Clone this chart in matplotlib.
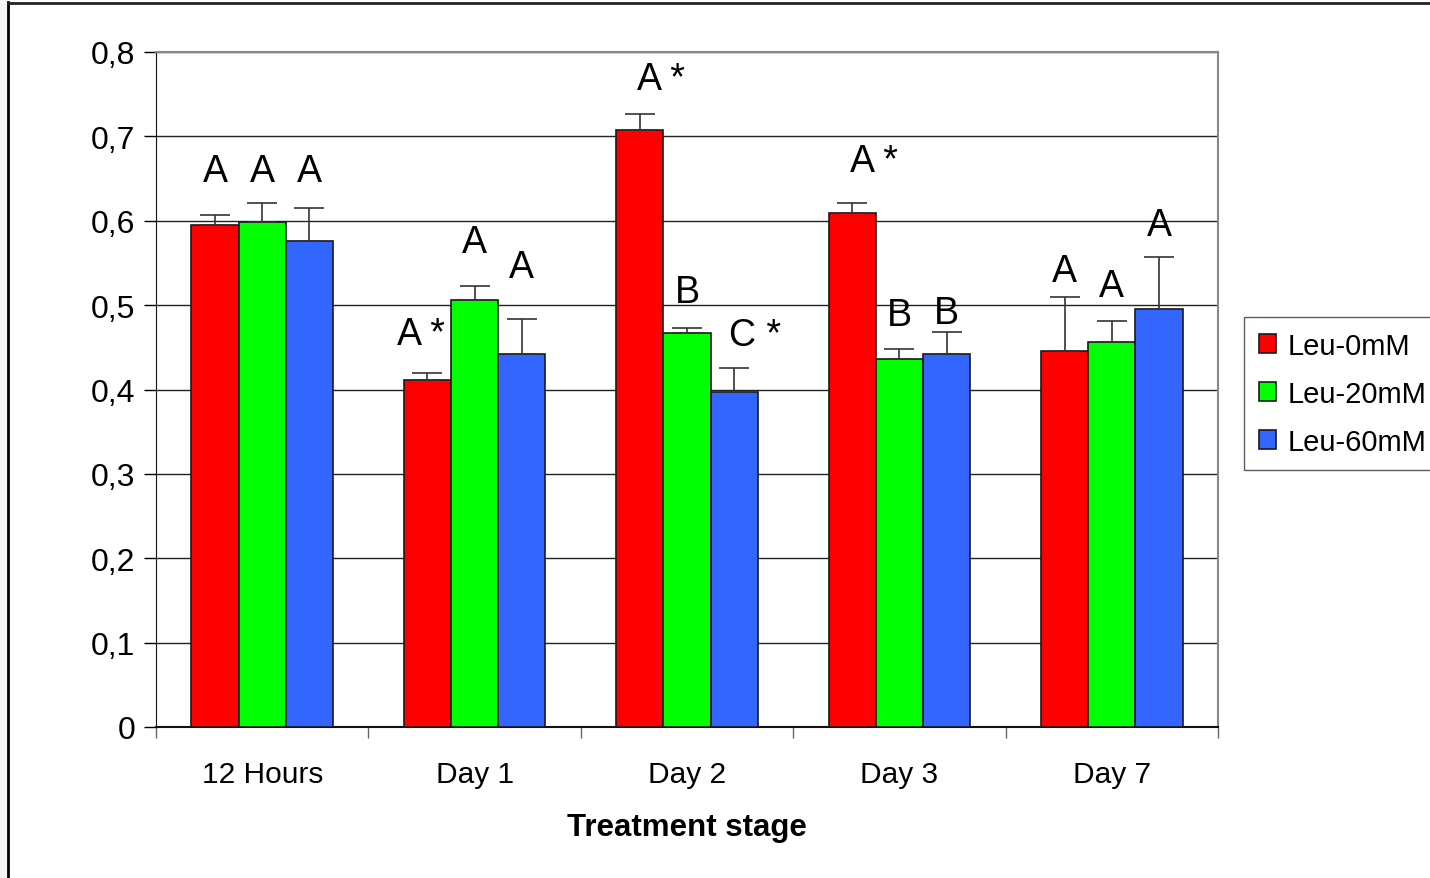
import numpy as np
import matplotlib.pyplot as plt
from matplotlib.lines import Line2D
from matplotlib.patches import Rectangle

plt.rcParams['font.family'] = ['Liberation Sans', 'DejaVu Sans']

# 各阶段 OD 均值与误差上限
stages = ['12 Hours', 'Day 1', 'Day 2', 'Day 3', 'Day 7']
series = ['Leu-0mM', 'Leu-20mM', 'Leu-60mM']
colors = ['#ff0000', '#00ff00', '#3366ff']

leu0 = [0.595, 0.411, 0.708, 0.609, 0.446]
leu20 = [0.599, 0.506, 0.467, 0.436, 0.456]
leu60 = [0.576, 0.442, 0.397, 0.442, 0.495]

err0 = [0.012, 0.009, 0.019, 0.012, 0.064]
err20 = [0.022, 0.017, 0.006, 0.012, 0.025]
err60 = [0.039, 0.042, 0.029, 0.026, 0.062]

# 显著性字母
marks0 = ['A', 'A *', 'A *', 'A *', 'A']
marks20 = ['A', 'A', 'B', 'B', 'A']
marks60 = ['A', 'A', 'C *', 'B', 'A']
mark_y0 = [0.659, 0.466, 0.768, 0.671, 0.540]
mark_y20 = [0.659, 0.575, 0.516, 0.488, 0.523]
mark_y60 = [0.659, 0.545, 0.465, 0.491, 0.595]

values = [leu0, leu20, leu60]
errors = [err0, err20, err60]
marks = [marks0, marks20, marks60]
mark_ys = [mark_y0, mark_y20, mark_y60]

fig = plt.figure(figsize=(14.3, 8.79), dpi=100)
ax = fig.add_axes([156 / 1430, 151 / 879, 1062 / 1430, 675 / 879])

x = np.arange(len(stages))
w = 0.222
for i in range(3):
    pos = x + (i - 1) * w
    ax.bar(pos, values[i], w, color=colors[i], edgecolor='#1a1a1a',
           linewidth=1.2, label=series[i], zorder=3)
    ax.errorbar(pos, values[i], yerr=[np.zeros(5), errors[i]], fmt='none',
                ecolor='#333333', elinewidth=1.2, capsize=11, capthick=1.2, zorder=4)
    for j in range(5):
        txt = marks[i][j]
        dx = 0.1 if '*' in txt else 0.0
        if i == 0 and j == 1:
            dx = -0.03
        ax.text(pos[j] + dx, mark_ys[i][j], txt, ha='center', va='center',
                fontsize=27, zorder=5)

ax.set_xlim(-0.5, 4.5)
ax.set_ylim(0, 0.8)
ax.set_yticks(np.arange(0, 0.81, 0.1))
ax.set_yticklabels(['0', '0,1', '0,2', '0,3', '0,4', '0,5', '0,6', '0,7', '0,8'])
ax.yaxis.grid(True, color='#222222', linewidth=1, zorder=0)
ax.set_axisbelow(True)

ax.set_xticks(x)
ax.set_xticklabels(stages)
ax.set_xticks(np.arange(-0.5, 4.6, 1), minor=True)
ax.tick_params(axis='x', which='major', length=0, pad=24, labelsize=21.5)
ax.tick_params(axis='x', which='minor', length=8, width=1, color='#666666')
ax.tick_params(axis='y', length=9, width=1, labelsize=23, pad=6)

for s in ['top', 'right']:
    ax.spines[s].set_color('#888888')
    ax.spines[s].set_linewidth(1.5)
ax.spines['left'].set_color('#111111')
ax.spines['bottom'].set_color('#111111')
ax.spines['bottom'].set_linewidth(1.5)

ax.set_xlabel('Treatment stage', fontsize=22.5, fontweight='bold', labelpad=17)

leg = ax.legend(loc='upper left', bbox_to_anchor=(1088 / 1062, 0.607),
                fontsize=21, frameon=True, fancybox=False, handlelength=0.6,
                handleheight=0.6, handletextpad=0.4, labelspacing=0.68,
                borderpad=0.5, borderaxespad=0)
leg.get_frame().set_edgecolor('#333333')
leg.get_frame().set_linewidth(1)

# 窗口边框
fig.add_artist(Rectangle((0, 0), 7 / 1430, 1, transform=fig.transFigure,
                         color='#f3f3f1', zorder=0))
fig.add_artist(Line2D([7.5 / 1430, 7.5 / 1430], [0, 1 - 3 / 879],
                      transform=fig.transFigure, color='black', linewidth=2))
fig.add_artist(Line2D([7.5 / 1430, 1], [1 - 3.5 / 879, 1 - 3.5 / 879],
                      transform=fig.transFigure, color='#222222', linewidth=2))

fig.savefig('out.png', dpi=100)
